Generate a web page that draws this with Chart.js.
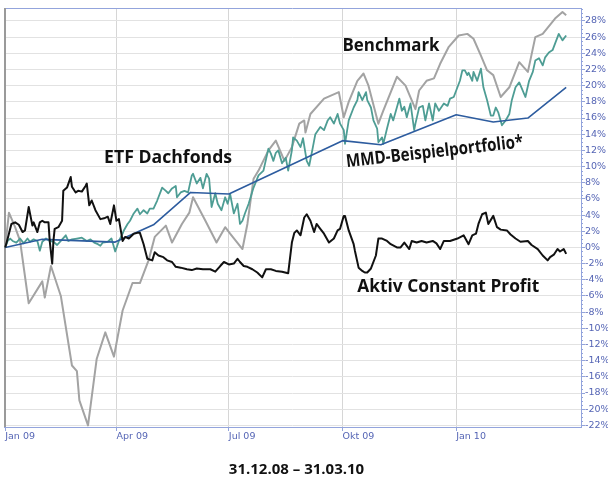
<!DOCTYPE html>
<html>
<head>
<meta charset="utf-8">
<script src="https://cdn.jsdelivr.net/npm/chart.js@4"></script>
<style>
  html, body { margin: 0; padding: 0; background: #fff; }
</style>
</head>
<body>
<canvas id="perfChart" width="608" height="477"></canvas>
<script>
// x = Tage seit 31.12.08, y = Wertentwicklung in %
const xTickDays = [0, 90, 181, 273, 365];
const xTickLabels = ['Jan 09', 'Apr 09', 'Jul 09', 'Okt 09', 'Jan 10'];
const yTicks = [-22, -20, -18, -16, -14, -12, -10, -8, -6, -4, -2, 0, 2, 4, 6, 8, 10, 12, 14, 16, 18, 20, 22, 24, 26, 28];

const benchmark = [[0,0],[3,4.3],[8,2.5],[12,0.8],[19,-6.9],[30,-4.2],[32,-6.2],[37,-2.3],[45,-6.0],[54,-14.6],[58,-15.3],[60,-18.9],[67,-22.0],[74,-13.8],[81,-10.5],[88,-13.5],[95,-7.8],[103,-4.4],[109,-4.4],[116,-1.6],[121,1.3],[130,2.7],[135,0.6],[143,2.9],[149,4.3],[152,6.2],[162,3.3],[171,0.6],[178,2.5],[182,1.7],[192,-0.2],[196,2.9],[201,8.5],[205,9.5],[213,12.0],[219,13.2],[226,10.7],[232,12.4],[238,15.3],[242,15.7],[243,14.2],[247,16.5],[258,18.4],[270,19.2],[274,16.1],[278,18.0],[285,20.6],[290,21.5],[294,20.0],[302,15.3],[306,16.9],[317,21.1],[324,20.0],[332,17.1],[335,19.4],[341,20.6],[347,20.9],[352,22.7],[359,24.8],[367,26.2],[374,26.4],[379,25.8],[385,23.7],[390,21.9],[395,21.3],[401,18.6],[408,19.8],[416,22.9],[423,21.7],[429,26.0],[435,26.4],[445,28.3],[451,29.1],[454,28.7]];

const etfDachfonds = [[0,0],[2,0.8],[4,1.1],[6,0.8],[9,0.6],[12,1.1],[15,0.5],[18,1.1],[20,0.7],[23,1.0],[26,0.8],[28,-0.4],[30,0.7],[33,1.1],[36,0.8],[39,0.7],[42,0.3],[45,0.8],[49,1.5],[51,0.8],[54,1.0],[58,1.1],[62,1.2],[66,0.8],[69,1.0],[72,0.6],[75,0.4],[77,0.2],[79,0.6],[83,0.7],[86,1.1],[89,-0.5],[92,0.8],[95,1.7],[96,2.1],[99,2.9],[101,3.3],[104,4.2],[107,4.8],[109,4.1],[112,4.6],[115,4.2],[117,4.8],[120,4.8],[123,5.8],[126,7.0],[127,7.4],[130,7.0],[132,6.7],[135,7.3],[138,7.6],[139,6.2],[142,6.8],[145,7.0],[148,6.8],[151,8.9],[152,9.1],[155,7.9],[158,8.6],[160,7.3],[163,9.1],[165,8.5],[167,5.0],[170,6.7],[172,5.4],[175,4.6],[178,6.2],[180,5.4],[182,6.6],[185,4.2],[188,5.4],[190,2.9],[192,3.3],[194,4.2],[197,5.4],[201,7.4],[205,8.9],[209,9.5],[213,12.2],[215,11.6],[217,10.7],[219,11.7],[221,12.0],[224,10.4],[227,11.1],[229,9.5],[232,12.0],[233,13.6],[236,13.2],[239,12.4],[241,13.5],[244,10.7],[246,10.1],[249,12.4],[251,14.0],[255,14.9],[258,14.5],[261,15.7],[263,16.1],[266,15.3],[269,16.5],[271,15.3],[274,14.5],[275,12.8],[278,15.7],[282,17.3],[285,18.2],[286,19.2],[289,18.2],[292,19.2],[293,18.2],[296,17.3],[298,15.7],[301,14.7],[302,13.0],[305,13.6],[306,12.8],[309,14.7],[312,16.5],[314,15.7],[319,18.4],[321,16.9],[323,17.4],[325,16.1],[328,17.8],[331,14.5],[332,15.3],[335,17.3],[338,17.5],[340,15.7],[343,17.8],[346,15.7],[348,17.8],[351,16.9],[355,17.8],[358,17.5],[360,18.4],[363,18.6],[365,19.4],[368,20.6],[370,21.9],[372,21.9],[374,21.3],[375,21.6],[378,20.6],[379,21.7],[382,20.6],[385,22.1],[387,19.8],[390,18.2],[393,16.3],[395,16.3],[397,17.3],[399,16.7],[402,15.1],[405,15.7],[408,16.5],[410,18.2],[413,19.8],[416,20.4],[418,19.7],[421,18.6],[424,20.6],[427,21.7],[429,23.1],[432,23.4],[435,22.5],[437,23.5],[440,24.1],[443,24.4],[445,25.2],[448,26.4],[451,25.6],[454,26.2]];

const mmdPortfolio = [[0,0],[30,1.0],[58,0.84],[89,0.66],[120,2.8],[150,6.8],[181,6.6],[273,13.2],[304,12.7],[365,16.4],[395,15.5],[423,16.0],[454,19.8]];

const aktivConstantProfit = [[0,0],[2,1.1],[5,2.9],[8,3.1],[11,2.8],[14,1.9],[16,2.1],[19,5.0],[22,2.7],[23,3.1],[26,1.9],[28,3.1],[30,3.3],[32,3.1],[35,3.1],[36,0.8],[38,-2.0],[39,0.8],[40,2.3],[43,2.5],[46,3.3],[47,7.0],[50,7.4],[53,8.7],[54,7.5],[57,6.8],[59,7.0],[62,6.9],[65,7.6],[66,7.9],[68,5.2],[70,5.8],[73,4.6],[77,3.5],[80,3.6],[83,3.8],[85,2.9],[88,5.2],[90,3.3],[92,3.5],[95,0.8],[97,1.3],[100,1.1],[104,1.7],[107,1.8],[109,1.8],[112,0.4],[115,-1.4],[119,-1.6],[121,-0.6],[124,-1.0],[128,-1.2],[131,-1.6],[135,-1.8],[138,-2.4],[142,-2.5],[147,-2.7],[151,-2.8],[155,-2.6],[160,-2.7],[166,-2.7],[170,-3.0],[174,-2.3],[177,-1.8],[181,-2.1],[185,-2.0],[188,-1.4],[190,-1.8],[193,-2.3],[196,-2.4],[200,-2.7],[204,-3.1],[208,-3.7],[211,-2.7],[215,-2.7],[219,-2.9],[224,-3.0],[229,-3.2],[232,0.6],[234,1.8],[236,2.1],[239,1.5],[242,3.7],[244,4.1],[247,3.3],[250,1.9],[252,2.9],[255,2.3],[258,1.7],[262,0.6],[266,1.1],[269,2.1],[271,2.3],[274,3.9],[275,3.9],[278,2.1],[282,0.4],[283,-0.4],[286,-2.5],[289,-2.9],[291,-3.1],[293,-3.1],[296,-2.6],[300,-1.0],[302,1.1],[305,1.1],[309,0.8],[312,0.4],[317,0.0],[320,0.0],[323,0.6],[327,-0.2],[329,0.8],[333,0.6],[337,0.8],[341,0.6],[346,0.8],[349,0.5],[352,-0.2],[355,0.8],[360,0.8],[366,1.1],[371,1.5],[375,0.4],[378,1.5],[381,1.7],[383,2.9],[386,4.1],[389,4.3],[391,2.9],[395,3.9],[398,2.5],[401,2.2],[406,2.1],[409,1.6],[413,1.1],[417,0.7],[423,0.8],[426,0.3],[431,-0.2],[435,-1.0],[439,-1.6],[441,-1.2],[444,-0.9],[447,-0.2],[449,-0.5],[452,-0.2],[454,-0.8]];

const toPoints = (pairs) => pairs.map(([x, y]) => ({ x, y }));

const axisBlue = '#93a4dc';
const tickBlue = '#5565b5';
const labelFont = 'bold 18px "Open Sans", sans-serif';

// Beschriftungen im Diagramm (Anker in Tagen / Prozent)
const chartLabels = [
  { text: 'ETF Dachfonds', day: 80, val: 10.4, width: 128, angle: 0 },
  { text: 'Benchmark', day: 273, val: 24.3, width: 97, angle: 0 },
  { text: 'MMD-Beispielportfolio*', day: 276.5, val: 9.9, width: 178, angle: -6.5 },
  { text: 'Aktiv Constant Profit', day: 285, val: -5.45, width: 182, angle: 0 }
];

const decorations = {
  id: 'decorations',
  beforeDatasetsDraw(chart) {
    const { ctx, chartArea: a, scales } = chart;
    ctx.save();
    // Rahmen oben und links
    ctx.strokeStyle = axisBlue;
    ctx.lineWidth = 1;
    ctx.beginPath();
    ctx.moveTo(a.left, a.top + 0.5);
    ctx.lineTo(a.right, a.top + 0.5);
    ctx.stroke();
    ctx.strokeStyle = '#9a9a9a';
    ctx.lineWidth = 2;
    ctx.beginPath();
    ctx.moveTo(a.left + 1, a.top);
    ctx.lineTo(a.left + 1, a.bottom);
    ctx.stroke();
    // kleine Zwischenstriche an der rechten Achse
    const y = scales.y;
    ctx.strokeStyle = axisBlue;
    ctx.lineWidth = 1;
    for (let v = -22; v <= 29.5; v += 0.5) {
      if (v % 2 === 0) continue;
      const py = Math.round(y.getPixelForValue(v)) + 0.5;
      ctx.beginPath();
      ctx.moveTo(a.right, py);
      ctx.lineTo(a.right + 2, py);
      ctx.stroke();
    }
    ctx.restore();
  },
  afterDraw(chart) {
    const { ctx, chartArea: a, scales } = chart;
    ctx.save();
    ctx.fillStyle = '#111';
    ctx.font = labelFont;
    ctx.textBaseline = 'alphabetic';
    ctx.textAlign = 'left';
    chartLabels.forEach(l => {
      const px = scales.x.getPixelForValue(l.day);
      const py = scales.y.getPixelForValue(l.val);
      ctx.save();
      ctx.translate(px, py);
      ctx.rotate(l.angle * Math.PI / 180);
      ctx.fillText(l.text, 0, 0, l.width);
      ctx.restore();
    });
    // Zeitraum unter dem Diagramm
    ctx.font = 'bold 15px "Open Sans", sans-serif';
    ctx.textAlign = 'center';
    ctx.fillText('31.12.08 – 31.03.10', (a.left + a.right) / 2 + 4, a.bottom + 47, 146);
    ctx.restore();
  }
};

new Chart(document.getElementById('perfChart').getContext('2d'), {
  type: 'line',
  data: {
    datasets: [
      { label: 'Aktiv Constant Profit', data: toPoints(aktivConstantProfit), borderColor: '#111111', borderWidth: 2 },
      { label: 'MMD-Beispielportfolio*', data: toPoints(mmdPortfolio), borderColor: '#2d5c9f', borderWidth: 1.6 },
      { label: 'ETF Dachfonds', data: toPoints(etfDachfonds), borderColor: '#4e9d94', borderWidth: 1.8 },
      { label: 'Benchmark', data: toPoints(benchmark), borderColor: '#a3a3a3', borderWidth: 2 }
    ]
  },
  options: {
    responsive: false,
    animation: false,
    layout: { padding: { top: 8, left: 4, right: 0, bottom: 0 } },
    elements: { point: { radius: 0 }, line: { tension: 0, borderJoinStyle: 'round' } },
    plugins: { legend: { display: false }, tooltip: { enabled: false } },
    scales: {
      x: {
        type: 'linear',
        min: -1,
        max: 466,
        afterBuildTicks: (scale) => { scale.ticks = xTickDays.map(v => ({ value: v })); },
        afterFit: (scale) => { scale.height = 50; },
        grid: { color: '#d6d6d6', tickColor: axisBlue, tickLength: 4 },
        border: { color: axisBlue },
        ticks: {
          autoSkip: false,
          maxRotation: 0,
          align: 'start',
          padding: 0,
          color: tickBlue,
          font: { family: 'DejaVu Sans', size: 9.5 },
          callback: (v) => xTickLabels[xTickDays.indexOf(v)]
        }
      },
      y: {
        type: 'linear',
        position: 'right',
        min: -22.2,
        max: 29.6,
        afterBuildTicks: (scale) => { scale.ticks = yTicks.map(v => ({ value: v })); },
        afterFit: (scale) => { scale.width = 27; },
        grid: { color: '#e2e2e2', tickColor: axisBlue, tickLength: 4 },
        border: { color: axisBlue },
        ticks: {
          padding: 0,
          color: tickBlue,
          font: { family: 'DejaVu Sans', size: 9.5 },
          callback: (v) => v + '%'
        }
      }
    }
  },
  plugins: [decorations]
});
</script>
</body>
</html>
